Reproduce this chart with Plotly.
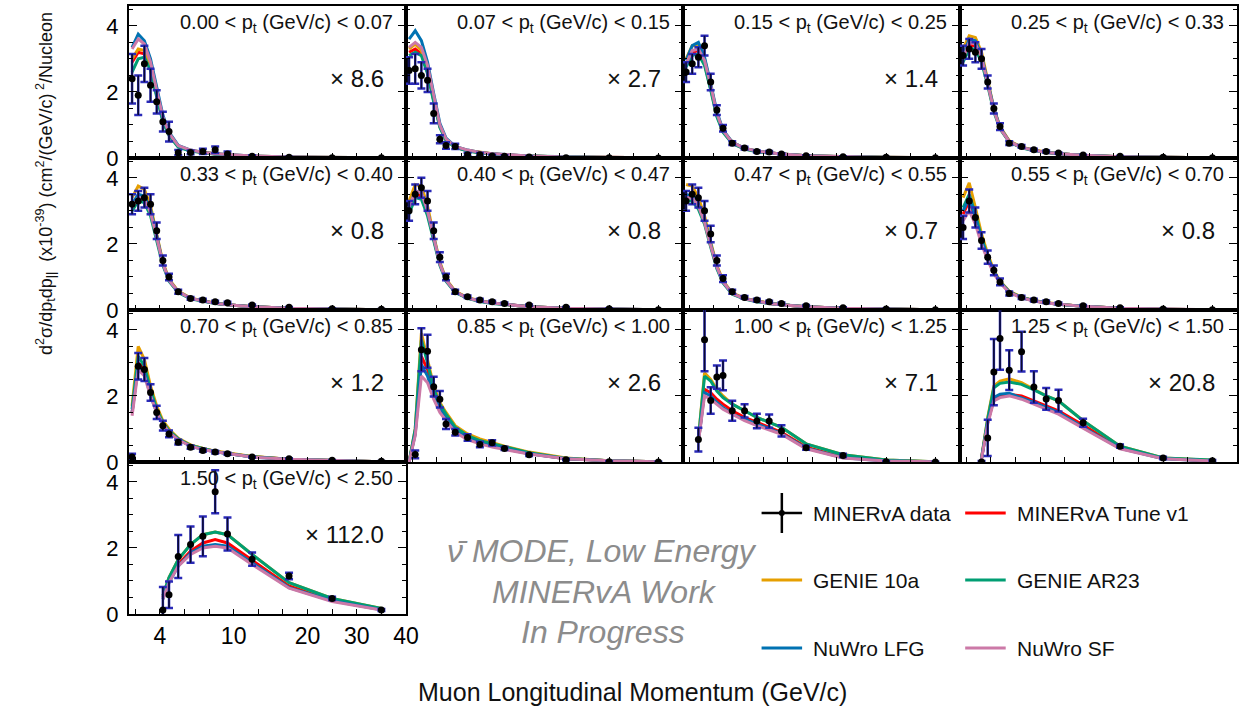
import numpy as np
import plotly.graph_objects as go
from plotly.subplots import make_subplots

# ------------------------------------------------------------------ data
PZ_CENTERS = [1.75, 2.25, 2.75, 3.25, 3.75, 4.25, 4.75, 5.5, 6.5, 7.5, 8.5, 9.5, 12.5, 17.5, 25.0, 35.0]
PT_EDGES = ["0.00", "0.07", "0.15", "0.25", "0.33", "0.40", "0.47", "0.55", "0.70",
            "0.85", "1.00", "1.25", "1.50", "2.50"]
SCALE_FACTORS = ["8.6", "2.7", "1.4", None, "0.8", "0.8", "0.7", "0.8", "1.2", "2.6", "7.1", "20.8", "112.0"]

# x axis (piecewise-linear display scale used by the original)
PZ_AXIS_KNOTS = [1.5, 10.0, 20.0, 40.0]
AXIS_KNOT_POS = [0.0, 4.25, 7.25, 11.25]
X_TICKS_PZ = [4, 10, 20, 30, 40]
X_TICK_TEXT = ["4", "10", "20", "30", "40"]
X_MINOR_PZ = [2, 6, 8, 40 / 3, 50 / 3, 25, 35]
Y_TICKS = [0, 2, 4]
Y_MINOR = [0.5, 1, 1.5, 2.5, 3, 3.5, 4.5]

MODEL_NAMES = ["MINERvA Tune v1", "GENIE 10a", "GENIE AR23", "NuWro LFG", "NuWro SF"]
MODEL_COLORS = ["#ff0000", "#e69f00", "#009e73", "#0072b2", "#cc79a7"]

# panel 1 : 0.00 < pt < 0.07
DATA_P1 = [2.4, 1.9, 2.85, 2.2, 1.7, 1.1, 0.8, 0.16, 0.17, 0.2, 0.25, 0.12, 0.05, 0.02, 0.01, 0.01]
ERR_P1 = [0.75, 0.6, 0.55, 0.5, 0.35, 0.3, 0.3, 0.08, 0.06, 0.08, 0.1, 0.08, 0.03, 0.02, 0.01, 0.01]
TUNE_P1 = [2.9, 3.2, 3.15, 2.7, 1.9, 1.15, 0.7, 0.35, 0.22, 0.16, 0.12, 0.09, 0.05, 0.025, 0.012, 0.005]
G10A_P1 = [3.0, 3.3, 3.25, 2.75, 1.95, 1.2, 0.72, 0.36, 0.23, 0.17, 0.13, 0.1, 0.06, 0.03, 0.013, 0.005]
AR23_P1 = [2.6, 3.0, 3.05, 2.65, 1.85, 1.1, 0.68, 0.33, 0.21, 0.15, 0.11, 0.09, 0.05, 0.025, 0.012, 0.005]
LFG_P1 = [3.35, 3.75, 3.55, 3.0, 2.15, 1.3, 0.78, 0.38, 0.24, 0.17, 0.13, 0.1, 0.06, 0.03, 0.013, 0.005]
SF_P1 = [3.3, 3.6, 3.45, 2.9, 2.05, 1.25, 0.75, 0.37, 0.24, 0.17, 0.13, 0.1, 0.06, 0.03, 0.013, 0.005]

# panel 2 : 0.07 < pt < 0.15
DATA_P2 = [2.65, 2.7, 2.5, 2.35, 1.35, 0.57, 0.38, 0.35, 0.1, 0.1, 0.06, 0.05, 0.03, 0.01, 0.01, 0.0]
ERR_P2 = [0.4, 0.45, 0.4, 0.35, 0.3, 0.12, 0.1, 0.08, 0.05, 0.05, 0.04, 0.03, 0.02, 0.01, 0.01, 0.01]
TUNE_P2 = [3.2, 3.3, 3.15, 2.6, 1.75, 0.95, 0.55, 0.33, 0.22, 0.16, 0.12, 0.1, 0.06, 0.03, 0.013, 0.005]
G10A_P2 = [3.3, 3.45, 3.25, 2.65, 1.8, 0.98, 0.57, 0.34, 0.23, 0.17, 0.13, 0.1, 0.06, 0.03, 0.013, 0.005]
AR23_P2 = [3.1, 3.2, 3.1, 2.55, 1.7, 0.92, 0.53, 0.32, 0.21, 0.15, 0.12, 0.09, 0.06, 0.03, 0.013, 0.005]
LFG_P2 = [3.6, 3.85, 3.55, 2.9, 1.95, 1.05, 0.6, 0.35, 0.24, 0.17, 0.13, 0.1, 0.06, 0.03, 0.013, 0.005]
SF_P2 = [3.35, 3.5, 3.35, 2.8, 1.9, 1.0, 0.58, 0.35, 0.24, 0.17, 0.13, 0.1, 0.06, 0.03, 0.013, 0.005]

# panel 3 : 0.15 < pt < 0.25
DATA_P3 = [2.6, 2.85, 3.05, 3.4, 2.3, 1.45, 0.9, 0.45, 0.3, 0.2, 0.18, 0.12, 0.07, 0.04, 0.02, 0.01]
ERR_P3 = [0.3, 0.3, 0.3, 0.3, 0.25, 0.15, 0.1, 0.06, 0.04, 0.03, 0.03, 0.02, 0.01, 0.01, 0.01, 0.005]
TUNE_P3 = [2.8, 3.2, 3.25, 2.85, 2.1, 1.3, 0.8, 0.45, 0.28, 0.2, 0.15, 0.12, 0.07, 0.035, 0.015, 0.005]
G10A_P3 = [3.0, 3.4, 3.4, 3.0, 2.2, 1.35, 0.83, 0.47, 0.29, 0.21, 0.16, 0.12, 0.07, 0.035, 0.015, 0.005]
AR23_P3 = [2.75, 3.1, 3.15, 2.8, 2.05, 1.25, 0.78, 0.44, 0.27, 0.19, 0.15, 0.12, 0.07, 0.035, 0.015, 0.005]
LFG_P3 = [2.95, 3.4, 3.5, 3.05, 2.25, 1.4, 0.85, 0.48, 0.29, 0.21, 0.16, 0.12, 0.07, 0.035, 0.015, 0.005]
SF_P3 = [2.85, 3.25, 3.3, 2.95, 2.2, 1.35, 0.83, 0.47, 0.29, 0.21, 0.16, 0.12, 0.07, 0.035, 0.015, 0.005]

# panel 4 : 0.25 < pt < 0.33
DATA_P4 = [3.1, 3.3, 3.2, 3.0, 2.3, 1.5, 0.95, 0.45, 0.35, 0.25, 0.2, 0.15, 0.09, 0.05, 0.02, 0.01]
ERR_P4 = [0.3, 0.3, 0.3, 0.3, 0.2, 0.15, 0.1, 0.06, 0.04, 0.03, 0.03, 0.02, 0.01, 0.01, 0.01, 0.005]
TUNE_P4 = [3.0, 3.4, 3.4, 3.0, 2.25, 1.45, 0.9, 0.5, 0.32, 0.23, 0.17, 0.13, 0.08, 0.04, 0.02, 0.006]
G10A_P4 = [3.3, 3.7, 3.65, 3.2, 2.35, 1.5, 0.95, 0.52, 0.33, 0.24, 0.18, 0.13, 0.08, 0.04, 0.02, 0.006]
AR23_P4 = [2.9, 3.3, 3.3, 2.9, 2.2, 1.4, 0.88, 0.48, 0.31, 0.22, 0.17, 0.13, 0.08, 0.04, 0.02, 0.006]
LFG_P4 = [3.1, 3.6, 3.55, 3.1, 2.3, 1.5, 0.93, 0.5, 0.32, 0.23, 0.17, 0.13, 0.08, 0.04, 0.02, 0.006]
SF_P4 = [3.0, 3.5, 3.45, 3.05, 2.25, 1.45, 0.9, 0.5, 0.32, 0.23, 0.17, 0.13, 0.08, 0.04, 0.02, 0.006]

# panel 5 : 0.33 < pt < 0.40
DATA_P5 = [3.2, 3.3, 3.4, 3.2, 2.4, 1.5, 1.0, 0.55, 0.35, 0.3, 0.25, 0.22, 0.15, 0.08, 0.04, 0.02]
ERR_P5 = [0.3, 0.3, 0.3, 0.3, 0.25, 0.15, 0.1, 0.06, 0.04, 0.04, 0.03, 0.03, 0.02, 0.01, 0.01, 0.01]
TUNE_P5 = [3.1, 3.4, 3.35, 2.95, 2.2, 1.4, 0.9, 0.55, 0.35, 0.27, 0.2, 0.16, 0.1, 0.05, 0.025, 0.01]
G10A_P5 = [3.4, 3.75, 3.65, 3.15, 2.3, 1.45, 0.93, 0.57, 0.36, 0.28, 0.21, 0.16, 0.1, 0.05, 0.025, 0.01]
AR23_P5 = [3.0, 3.3, 3.25, 2.85, 2.1, 1.35, 0.87, 0.53, 0.34, 0.26, 0.2, 0.16, 0.1, 0.05, 0.025, 0.01]
LFG_P5 = [3.2, 3.5, 3.45, 3.05, 2.25, 1.4, 0.9, 0.55, 0.35, 0.27, 0.2, 0.16, 0.1, 0.05, 0.025, 0.01]
SF_P5 = [3.1, 3.4, 3.35, 2.95, 2.2, 1.4, 0.9, 0.55, 0.35, 0.27, 0.2, 0.16, 0.1, 0.05, 0.025, 0.01]

# panel 6 : 0.40 < pt < 0.47
DATA_P6 = [3.0, 3.5, 3.7, 3.3, 2.4, 1.6, 1.0, 0.55, 0.4, 0.3, 0.25, 0.2, 0.15, 0.08, 0.04, 0.01]
ERR_P6 = [0.3, 0.3, 0.3, 0.3, 0.25, 0.15, 0.1, 0.06, 0.04, 0.04, 0.03, 0.03, 0.02, 0.01, 0.01, 0.01]
TUNE_P6 = [3.0, 3.5, 3.45, 2.95, 2.15, 1.4, 0.9, 0.55, 0.36, 0.27, 0.21, 0.17, 0.1, 0.05, 0.025, 0.01]
G10A_P6 = [3.3, 3.8, 3.75, 3.15, 2.25, 1.45, 0.93, 0.57, 0.37, 0.28, 0.22, 0.17, 0.1, 0.05, 0.025, 0.01]
AR23_P6 = [2.9, 3.4, 3.35, 2.85, 2.1, 1.35, 0.87, 0.53, 0.35, 0.26, 0.2, 0.16, 0.1, 0.05, 0.025, 0.01]
LFG_P6 = [3.1, 3.6, 3.55, 3.0, 2.2, 1.4, 0.9, 0.55, 0.36, 0.27, 0.21, 0.17, 0.1, 0.05, 0.025, 0.01]
SF_P6 = [3.1, 3.6, 3.55, 3.0, 2.2, 1.4, 0.9, 0.55, 0.36, 0.27, 0.21, 0.17, 0.1, 0.05, 0.025, 0.01]

# panel 7 : 0.47 < pt < 0.55
DATA_P7 = [3.3, 3.5, 3.4, 3.0, 2.3, 1.5, 0.95, 0.55, 0.38, 0.3, 0.25, 0.2, 0.13, 0.07, 0.03, 0.01]
ERR_P7 = [0.3, 0.3, 0.3, 0.3, 0.25, 0.15, 0.1, 0.06, 0.04, 0.04, 0.03, 0.03, 0.02, 0.01, 0.01, 0.01]
TUNE_P7 = [3.4, 3.4, 3.15, 2.65, 1.95, 1.3, 0.85, 0.5, 0.34, 0.26, 0.2, 0.16, 0.1, 0.05, 0.025, 0.01]
G10A_P7 = [3.8, 3.75, 3.4, 2.85, 2.05, 1.35, 0.88, 0.52, 0.35, 0.27, 0.21, 0.16, 0.1, 0.05, 0.025, 0.01]
AR23_P7 = [3.3, 3.3, 3.05, 2.6, 1.9, 1.25, 0.82, 0.48, 0.33, 0.25, 0.2, 0.16, 0.1, 0.05, 0.025, 0.01]
LFG_P7 = [3.5, 3.45, 3.2, 2.7, 2.0, 1.3, 0.85, 0.5, 0.34, 0.26, 0.2, 0.16, 0.1, 0.05, 0.025, 0.01]
SF_P7 = [3.4, 3.4, 3.15, 2.65, 1.95, 1.3, 0.85, 0.5, 0.34, 0.26, 0.2, 0.16, 0.1, 0.05, 0.025, 0.01]

# panel 8 : 0.55 < pt < 0.70
DATA_P8 = [2.5, 3.3, 2.8, 2.1, 1.6, 1.2, 0.85, 0.5, 0.38, 0.3, 0.25, 0.2, 0.13, 0.07, 0.03, 0.01]
ERR_P8 = [0.35, 0.35, 0.3, 0.25, 0.2, 0.15, 0.1, 0.06, 0.05, 0.04, 0.04, 0.03, 0.02, 0.01, 0.01, 0.01]
TUNE_P8 = [2.9, 3.3, 2.8, 2.1, 1.6, 1.15, 0.85, 0.55, 0.38, 0.28, 0.22, 0.17, 0.11, 0.05, 0.025, 0.01]
G10A_P8 = [3.4, 3.85, 3.1, 2.3, 1.7, 1.2, 0.88, 0.57, 0.39, 0.29, 0.23, 0.18, 0.11, 0.05, 0.025, 0.01]
AR23_P8 = [3.1, 3.5, 2.9, 2.2, 1.6, 1.15, 0.85, 0.55, 0.38, 0.28, 0.22, 0.17, 0.11, 0.05, 0.025, 0.01]
LFG_P8 = [3.0, 3.4, 2.8, 2.1, 1.6, 1.15, 0.85, 0.55, 0.37, 0.28, 0.22, 0.17, 0.11, 0.05, 0.025, 0.01]
SF_P8 = [2.7, 3.0, 2.6, 2.0, 1.5, 1.1, 0.82, 0.53, 0.37, 0.27, 0.21, 0.17, 0.11, 0.05, 0.025, 0.01]

# panel 9 : 0.70 < pt < 0.85
DATA_P9 = [0.15, 2.9, 2.8, 2.1, 1.5, 1.1, 0.85, 0.6, 0.45, 0.35, 0.3, 0.25, 0.15, 0.1, 0.05, 0.02]
ERR_P9 = [0.1, 0.4, 0.35, 0.25, 0.2, 0.15, 0.1, 0.07, 0.05, 0.04, 0.04, 0.03, 0.02, 0.01, 0.01, 0.01]
TUNE_P9 = [1.5, 3.0, 2.8, 2.1, 1.6, 1.2, 0.95, 0.7, 0.5, 0.4, 0.32, 0.26, 0.16, 0.08, 0.04, 0.01]
G10A_P9 = [1.7, 3.5, 3.1, 2.3, 1.7, 1.25, 1.0, 0.72, 0.52, 0.41, 0.33, 0.27, 0.17, 0.08, 0.04, 0.01]
AR23_P9 = [1.6, 3.2, 2.9, 2.2, 1.6, 1.2, 0.95, 0.7, 0.5, 0.4, 0.32, 0.26, 0.16, 0.08, 0.04, 0.01]
LFG_P9 = [1.5, 2.9, 2.7, 2.0, 1.5, 1.15, 0.9, 0.68, 0.48, 0.38, 0.31, 0.25, 0.15, 0.08, 0.04, 0.01]
SF_P9 = [1.4, 2.8, 2.6, 2.0, 1.5, 1.15, 0.9, 0.67, 0.48, 0.38, 0.31, 0.25, 0.15, 0.08, 0.04, 0.01]

# panel 10 : 0.85 < pt < 1.00
DATA_P10 = [None, 0.23, 3.4, 3.35, 2.28, 1.9, 1.15, 0.9, 0.74, 0.53, 0.58, 0.41, 0.22, 0.07, 0.01, 0.0]
ERR_P10 = [None, 0.12, 0.65, 0.5, 0.3, 0.25, 0.15, 0.1, 0.1, 0.08, 0.08, 0.05, 0.04, 0.02, 0.01, 0.01]
TUNE_P10 = [0.0, 0.9, 3.2, 2.8, 2.1, 1.6, 1.35, 1.0, 0.75, 0.6, 0.5, 0.42, 0.26, 0.1, 0.04, 0.01]
G10A_P10 = [0.0, 1.0, 3.9, 3.1, 2.3, 1.8, 1.5, 1.1, 0.85, 0.7, 0.58, 0.48, 0.3, 0.12, 0.04, 0.01]
AR23_P10 = [0.0, 1.0, 3.7, 3.0, 2.2, 1.75, 1.45, 1.05, 0.8, 0.65, 0.55, 0.46, 0.28, 0.11, 0.04, 0.01]
LFG_P10 = [0.0, 0.85, 2.95, 2.6, 2.0, 1.6, 1.3, 0.95, 0.72, 0.58, 0.48, 0.4, 0.25, 0.1, 0.04, 0.01]
SF_P10 = [0.0, 0.8, 2.6, 2.4, 1.9, 1.5, 1.25, 0.9, 0.68, 0.55, 0.45, 0.38, 0.24, 0.1, 0.04, 0.01]

# panel 11 : 1.00 < pt < 1.25
DATA_P11 = [None, None, 0.68, 3.7, 1.86, 2.57, 2.62, 1.55, 1.55, 1.24, 1.24, 0.94, 0.43, 0.2, 0.01, 0.0]
ERR_P11 = [None, None, 0.36, 0.95, 0.4, 0.35, 0.45, 0.3, 0.2, 0.22, 0.2, 0.17, 0.06, 0.05, 0.02, 0.01]
TUNE_P11 = [None, None, 0.6, 2.2, 2.1, 1.9, 1.75, 1.55, 1.35, 1.2, 1.05, 0.9, 0.45, 0.15, 0.04, 0.01]
G10A_P11 = [None, None, 0.7, 2.7, 2.5, 2.2, 2.0, 1.75, 1.55, 1.35, 1.2, 1.05, 0.55, 0.22, 0.06, 0.01]
AR23_P11 = [None, None, 0.7, 2.6, 2.45, 2.15, 1.95, 1.75, 1.55, 1.35, 1.2, 1.05, 0.55, 0.22, 0.06, 0.01]
LFG_P11 = [None, None, 0.6, 2.1, 2.0, 1.8, 1.65, 1.45, 1.3, 1.15, 1.0, 0.86, 0.42, 0.13, 0.03, 0.01]
SF_P11 = [None, None, 0.6, 2.0, 1.9, 1.75, 1.6, 1.45, 1.25, 1.1, 0.97, 0.84, 0.4, 0.12, 0.03, 0.01]

# panel 12 : 1.25 < pt < 1.50
DATA_P12 = [None, None, None, 0.0, 0.73, 2.72, 3.74, 2.78, 3.34, 2.27, 1.91, 1.86, 1.19, 0.48, 0.12, 0.04]
ERR_P12 = [None, None, None, 0.03, 0.55, 1.0, 0.95, 0.6, 0.6, 0.48, 0.33, 0.33, 0.12, 0.05, 0.04, 0.02]
TUNE_P12 = [None, None, None, 0.1, 1.2, 1.9, 2.0, 2.05, 2.0, 1.85, 1.7, 1.55, 1.12, 0.43, 0.11, 0.03]
G10A_P12 = [None, None, None, 0.12, 1.35, 2.3, 2.45, 2.52, 2.4, 2.2, 2.0, 1.85, 1.25, 0.48, 0.12, 0.05]
AR23_P12 = [None, None, None, 0.12, 1.3, 2.25, 2.38, 2.42, 2.35, 2.18, 2.0, 1.85, 1.25, 0.48, 0.12, 0.06]
LFG_P12 = [None, None, None, 0.1, 1.2, 1.95, 2.05, 2.08, 1.95, 1.8, 1.65, 1.5, 1.05, 0.41, 0.1, 0.03]
SF_P12 = [None, None, None, 0.1, 1.15, 1.85, 1.95, 2.0, 1.9, 1.75, 1.6, 1.45, 1.02, 0.4, 0.1, 0.03]

# panel 13 : 1.50 < pt < 2.50
DATA_P13 = [None, None, None, None, None, 0.12, 0.58, 1.74, 2.1, 2.35, 3.7, 2.42, 1.66, 1.15, 0.47, 0.12]
ERR_P13 = [None, None, None, None, None, 0.7, 0.4, 0.65, 0.55, 0.6, 0.65, 0.5, 0.2, 0.1, 0.05, 0.03]
TUNE_P13 = [None, None, None, None, None, 0.5, 1.0, 1.5, 1.9, 2.15, 2.25, 2.15, 1.62, 0.85, 0.42, 0.14]
G10A_P13 = [None, None, None, None, None, 0.55, 1.1, 1.65, 2.1, 2.4, 2.48, 2.4, 1.8, 0.95, 0.47, 0.17]
AR23_P13 = [None, None, None, None, None, 0.55, 1.1, 1.65, 2.1, 2.4, 2.48, 2.4, 1.8, 0.95, 0.47, 0.17]
LFG_P13 = [None, None, None, None, None, 0.45, 0.95, 1.45, 1.85, 2.05, 2.1, 2.05, 1.55, 0.8, 0.4, 0.13]
SF_P13 = [None, None, None, None, None, 0.45, 0.95, 1.45, 1.8, 2.0, 2.05, 2.0, 1.5, 0.78, 0.38, 0.12]

PANELS = [
    (DATA_P1, ERR_P1, [TUNE_P1, G10A_P1, AR23_P1, LFG_P1, SF_P1]),
    (DATA_P2, ERR_P2, [TUNE_P2, G10A_P2, AR23_P2, LFG_P2, SF_P2]),
    (DATA_P3, ERR_P3, [TUNE_P3, G10A_P3, AR23_P3, LFG_P3, SF_P3]),
    (DATA_P4, ERR_P4, [TUNE_P4, G10A_P4, AR23_P4, LFG_P4, SF_P4]),
    (DATA_P5, ERR_P5, [TUNE_P5, G10A_P5, AR23_P5, LFG_P5, SF_P5]),
    (DATA_P6, ERR_P6, [TUNE_P6, G10A_P6, AR23_P6, LFG_P6, SF_P6]),
    (DATA_P7, ERR_P7, [TUNE_P7, G10A_P7, AR23_P7, LFG_P7, SF_P7]),
    (DATA_P8, ERR_P8, [TUNE_P8, G10A_P8, AR23_P8, LFG_P8, SF_P8]),
    (DATA_P9, ERR_P9, [TUNE_P9, G10A_P9, AR23_P9, LFG_P9, SF_P9]),
    (DATA_P10, ERR_P10, [TUNE_P10, G10A_P10, AR23_P10, LFG_P10, SF_P10]),
    (DATA_P11, ERR_P11, [TUNE_P11, G10A_P11, AR23_P11, LFG_P11, SF_P11]),
    (DATA_P12, ERR_P12, [TUNE_P12, G10A_P12, AR23_P12, LFG_P12, SF_P12]),
    (DATA_P13, ERR_P13, [TUNE_P13, G10A_P13, AR23_P13, LFG_P13, SF_P13]),
]

# ------------------------------------------------------------------ layout helpers
W, H = 1251, 712
ML, MR, MT, MB = 129, 1, 6, 98
FONT = "Liberation Sans, Arial, Helvetica, sans-serif"


def to_axis(vals):
    return [float(np.interp(v, PZ_AXIS_KNOTS, AXIS_KNOT_POS)) for v in vals]


def px_x(px):
    return (px - ML) / (W - ML - MR)


def px_y(py):
    return (H - MB - py) / (H - MT - MB)


fig = make_subplots(rows=4, cols=4, horizontal_spacing=0, vertical_spacing=0)

xs = to_axis(PZ_CENTERS)
for i, (data, err, models) in enumerate(PANELS):
    r, c = i // 4 + 1, i % 4 + 1
    for vals, name, col in zip(models, MODEL_NAMES, MODEL_COLORS):
        fig.add_trace(go.Scatter(x=xs, y=vals, mode="lines", name=name,
                                 line=dict(color=col, width=3), hoverinfo="skip",
                                 showlegend=False), row=r, col=c)
    fig.add_trace(go.Scatter(x=xs, y=data, mode="markers", name="MINERvA data (total)",
                             marker=dict(size=6, color="rgba(0,0,0,0)"),
                             error_y=dict(type="data", array=err, color="#2a2ab8",
                                          thickness=2.5, width=4),
                             showlegend=False), row=r, col=c)
    fig.add_trace(go.Scatter(x=xs, y=data, mode="markers", name="MINERvA data",
                             marker=dict(size=7, color="black"),
                             error_y=dict(type="data", array=err, color="#0a0a30",
                                          thickness=1.5, width=0),
                             showlegend=False), row=r, col=c)

xt = to_axis(X_TICKS_PZ)
xm = to_axis(X_MINOR_PZ)
for k in range(16):
    r, c = k // 4 + 1, k % 4 + 1
    if k >= len(PANELS):
        fig.update_xaxes(visible=False, row=r, col=c)
        fig.update_yaxes(visible=False, row=r, col=c)
        continue
    fig.update_xaxes(range=[0, AXIS_KNOT_POS[-1]], tickvals=xt, ticktext=X_TICK_TEXT,
                     showticklabels=(k == 12), ticks="inside", ticklen=5, tickwidth=1,
                     tickcolor="black",
                     minor=dict(tickvals=xm, ticks="inside", ticklen=5,
                                tickcolor="black", tickwidth=1),
                     showline=True, linecolor="black", linewidth=2,
                     mirror=True, showgrid=False, zeroline=False,
                     tickfont=dict(size=23, color="black", family=FONT),
                     ticklabelstandoff=0, row=r, col=c)
    fig.update_yaxes(range=[0, 4.6], tickvals=Y_TICKS, ticktext=[str(t) for t in Y_TICKS],
                     showticklabels=(c == 1), ticks="inside", ticklen=8, tickwidth=1,
                     tickcolor="black",
                     minor=dict(tickvals=Y_MINOR, ticks="inside", ticklen=4,
                                tickcolor="black", tickwidth=1),
                     showline=True, linecolor="black", linewidth=2, mirror="ticks",
                     showgrid=False, zeroline=False,
                     tickfont=dict(size=22, color="black", family=FONT),
                     ticklabelstandoff=4, row=r, col=c)

annotations = []
for i in range(len(PANELS)):
    ref = "" if i == 0 else str(i + 1)
    annotations.append(dict(
        text=f"{PT_EDGES[i]} &lt; p<sub>t</sub> (GeV/c) &lt; {PT_EDGES[i + 1]}",
        xref=f"x{ref} domain", yref=f"y{ref} domain", x=1, y=1,
        xanchor="right", yanchor="top", xshift=-11, yshift=-3, showarrow=False,
        font=dict(size=20, color="#111111", family=FONT)))
    if SCALE_FACTORS[i] is not None:
        annotations.append(dict(
            text=f"\u00d7 {SCALE_FACTORS[i]}",
            xref=f"x{ref} domain", yref=f"y{ref} domain", x=1, y=1,
            xanchor="right", yanchor="middle", xshift=-20, yshift=-72, showarrow=False,
            font=dict(size=24, color="#111111", family=FONT)))

# axis titles
annotations.append(dict(
    text="Muon Longitudinal Momentum (GeV/c)", xref="paper", yref="paper",
    x=px_x(638), y=px_y(692), xanchor="center", yanchor="middle", showarrow=False,
    font=dict(size=25, color="#111111", family=FONT)))
annotations.append(dict(
    text="d<sup>2</sup>\u03c3/dp<sub>t</sub>dp<sub>||</sub>  (x10<sup>-39</sup>) "
         "(cm<sup>2</sup>/(GeV/c)<sup> 2</sup>/Nucleon",
    xref="paper", yref="paper", x=px_x(45), y=px_y(183), textangle=-90,
    xanchor="center", yanchor="middle", showarrow=False,
    font=dict(size=18, color="#111111", family=FONT)))

# watermark
WATERMARK = ["\u03bd\u0304 MODE, Low Energy", "MINERvA Work", "In Progress"]
WM_POS = [(608, 551), (610, 592), (609, 632)]
for txt, (wx, wy) in zip(WATERMARK, WM_POS):
    annotations.append(dict(text=f"<i>{txt}</i>", xref="paper", yref="paper",
                            x=px_x(wx), y=px_y(wy), xanchor="center", yanchor="middle",
                            showarrow=False,
                            font=dict(size=32, color="#8c8c8c", family=FONT)))

# custom legend (3 rows x 2 columns)
LEGEND_ITEMS = [("MINERvA data", None), ("MINERvA Tune v1", MODEL_COLORS[0]),
                ("GENIE 10a", MODEL_COLORS[1]), ("GENIE AR23", MODEL_COLORS[2]),
                ("NuWro LFG", MODEL_COLORS[3]), ("NuWro SF", MODEL_COLORS[4])]
LEG_COL_X = [769, 975]
LEG_ROW_Y = [513, 580, 648]
shapes = []
for j, (label, col) in enumerate(LEGEND_ITEMS):
    lx = LEG_COL_X[j % 2]
    ly = LEG_ROW_Y[j // 2]
    color = "black" if col is None else col
    shapes.append(dict(type="line", xref="paper", yref="paper",
                       x0=px_x(lx), x1=px_x(lx + 41), y0=px_y(ly), y1=px_y(ly),
                       line=dict(color=color, width=3 if col else 2.5)))
    if col is None:
        shapes.append(dict(type="line", xref="paper", yref="paper",
                           x0=px_x(lx + 20.5), x1=px_x(lx + 20.5),
                           y0=px_y(ly - 20), y1=px_y(ly + 20),
                           line=dict(color="black", width=2.5)))
        shapes.append(dict(type="circle", xref="paper", yref="paper",
                           x0=px_x(lx + 17.5), x1=px_x(lx + 23.5),
                           y0=px_y(ly - 3), y1=px_y(ly + 3),
                           fillcolor="black", line=dict(color="black", width=0)))
    annotations.append(dict(text=label, xref="paper", yref="paper",
                            x=px_x(lx + 50), y=px_y(ly), xanchor="left", yanchor="middle",
                            showarrow=False, font=dict(size=21, color="#111111", family=FONT)))

fig.update_layout(width=W, height=H, margin=dict(l=ML, r=MR, t=MT, b=MB),
                  paper_bgcolor="white", plot_bgcolor="white", showlegend=False,
                  annotations=annotations, shapes=shapes,
                  font=dict(family=FONT, color="black"))

fig.write_html("out.html")
